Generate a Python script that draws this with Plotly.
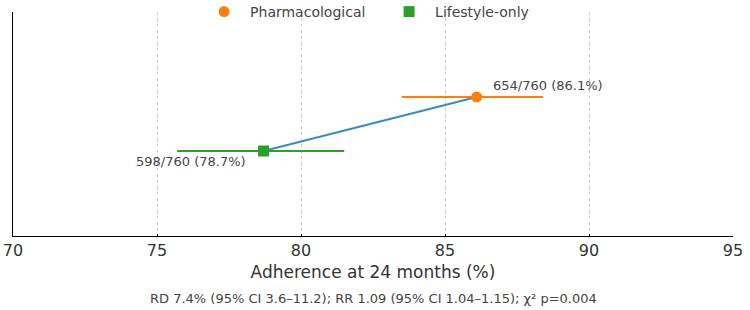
import plotly.graph_objects as go

groups = ["Pharmacological", "Lifestyle-only"]
rates = [86.1, 78.7]
ci_low = [83.5, 75.7]
ci_high = [88.4, 81.5]
labels = ["654/760 (86.1%)", "598/760 (78.7%)"]
ypos = [1, 0]
colors = ["#ff7f0e", "#2ca02c"]
symbols = ["circle", "square"]
footer = "RD 7.4% (95% CI 3.6–11.2); RR 1.09 (95% CI 1.04–1.15); χ² p=0.004"

FONT = "DejaVu Sans"
fig = go.Figure()

# connecting line
fig.add_trace(go.Scatter(x=[rates[1], rates[0]], y=[ypos[1], ypos[0]], mode="lines",
                         line=dict(color="#3b8bc2", width=2), showlegend=False, hoverinfo="skip"))

for i in range(2):
    fig.add_trace(go.Scatter(
        x=[rates[i]], y=[ypos[i]], mode="markers", name=groups[i],
        marker=dict(color=colors[i], symbol=symbols[i], size=11),
        error_x=dict(type="data", symmetric=False,
                     array=[ci_high[i] - rates[i]], arrayminus=[rates[i] - ci_low[i]],
                     color=colors[i], thickness=2, width=0),
    ))

fig.add_annotation(x=rates[0], y=ypos[0], text=labels[0], showarrow=False,
                   xanchor="left", yanchor="bottom", xshift=14, yshift=2,
                   font=dict(family=FONT, size=13, color="#444"))
fig.add_annotation(x=rates[1], y=ypos[1], text=labels[1], showarrow=False,
                   xanchor="right", yanchor="top", xshift=-16, yshift=-1,
                   font=dict(family=FONT, size=13, color="#444"))
fig.add_annotation(x=0.5, y=-0.235, xref="paper", yref="paper", yanchor="top", text=footer,
                   showarrow=False, font=dict(family=FONT, size=13, color="#444"))

fig.update_layout(
    width=750, height=310,
    margin=dict(l=13, r=17, t=12, b=74, autoexpand=False),
    plot_bgcolor="white", paper_bgcolor="white",
    font=dict(family=FONT, color="#333"),
    legend=dict(orientation="h", x=0.514, xanchor="center", y=1.0, yanchor="middle",
                font=dict(family=FONT, size=14, color="#444"), bgcolor="rgba(255,255,255,0)",
                itemwidth=42, entrywidth=128, tracegroupgap=0),
    xaxis=dict(range=[70, 95], tickvals=[70, 75, 80, 85, 90, 95],
               showgrid=True, gridcolor="#d0d0d0", griddash="3px,3px", gridwidth=1,
               showline=True, linecolor="black", linewidth=1.2,
               ticks="inside", ticklen=2, tickcolor="black",
               tickfont=dict(family=FONT, size=16, color="#333"),
               title=dict(text="Adherence at 24 months (%)", font=dict(family=FONT, size=17, color="#333"),
                          standoff=6),
               zeroline=False),
    yaxis=dict(range=[-1.574, 2.574], showticklabels=False, showgrid=False, zeroline=False,
               showline=True, linecolor="black", linewidth=1.2, ticks=""),
)

fig.write_html("out.html")
